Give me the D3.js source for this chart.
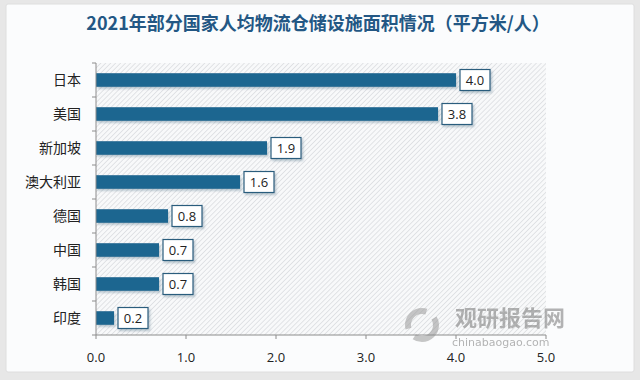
<!DOCTYPE html>
<html><head><meta charset="utf-8">
<script src="https://cdn.jsdelivr.net/npm/d3@7"></script>
<style>
html,body{margin:0;padding:0;background:#e7e7e7;}
svg{display:block;}
</style></head>
<body>
<svg id="chart" width="640" height="380"></svg>
<script>
const title = "2021年部分国家人均物流仓储设施面积情况（平方米/人）";
const categories = ["日本","美国","新加坡","澳大利亚","德国","中国","韩国","印度"];
const values = [4.0,3.8,1.9,1.6,0.8,0.7,0.7,0.2];
const xTicks = [0,1,2,3,4,5];

const svg = d3.select("#chart");
const font = "'Noto Sans CJK SC','Noto Sans',sans-serif";
const defs = svg.append("defs");
const pat = defs.append("pattern").attr("id","hatch").attr("patternUnits","userSpaceOnUse")
  .attr("width",3.5).attr("height",3.5).attr("patternTransform","rotate(45)");
pat.append("rect").attr("width",3.5).attr("height",3.5).attr("fill","#f8f9fa");
pat.append("line").attr("x1",0).attr("y1",0).attr("x2",0).attr("y2",3.5).attr("stroke","#d3d5d9").attr("stroke-width",1.2);
const f = defs.append("filter").attr("id","sh").attr("x","-20%").attr("y","-30%").attr("width","150%").attr("height","180%");
f.append("feDropShadow").attr("dx",1.5).attr("dy",2).attr("stdDeviation",1.2).attr("flood-color","#5a7a90").attr("flood-opacity",0.4);

// card
svg.append("rect").attr("x",6).attr("y",4).attr("width",628).attr("height",368).attr("rx",2)
  .attr("fill","#fbfcfd").attr("stroke","#dedede");

svg.append("text").attr("x",318).attr("y",30).attr("text-anchor","middle")
  .attr("font-family",font).attr("font-size",18).attr("font-weight",700)
  .attr("fill","#235784").text(title);

const m = {left:96, right:546, top:63, bottom:335};
const x = d3.scaleLinear().domain([0,5]).range([m.left,m.right]);
const y = d3.scaleBand().domain(categories).range([m.top,m.bottom]).paddingInner(0.6).paddingOuter(0.3);

svg.append("rect").attr("x",m.left).attr("y",m.top).attr("width",m.right-m.left).attr("height",m.bottom-m.top)
  .attr("fill","url(#hatch)");

// watermark
const wm = svg.append("g").attr("opacity",0.55);
wm.append("circle").attr("cx",422).attr("cy",325).attr("r",14).attr("fill","none").attr("stroke","#9a9a9a").attr("stroke-width",6).attr("stroke-dasharray","30 10");
wm.append("text").attr("x",455).attr("y",326).attr("font-family",font).attr("font-size",22).attr("font-weight",700)
  .attr("fill","#777").text("观研报告网");
wm.append("text").attr("x",452).attr("y",346).attr("font-family","'DejaVu Sans',sans-serif").attr("font-size",11)
  .attr("fill","#777").text("chinabaogao.com");

// bars
const bars = svg.append("g");
categories.forEach((c,i)=>{
  const v = values[i];
  bars.append("rect").attr("x",x(0)).attr("y",y(c)).attr("width",x(v)-x(0)).attr("height",y.bandwidth())
    .attr("fill","#1d6690").attr("filter","url(#sh)");
  const bw = 30, bh = 21;
  const bx = x(v)+4, by = y(c)+y.bandwidth()/2-bh/2;
  bars.append("rect").attr("x",bx).attr("y",by).attr("width",bw).attr("height",bh)
    .attr("fill","#ffffff").attr("stroke","#2b5d7d").attr("stroke-width",1.2).attr("filter","url(#sh)");
  bars.append("text").attr("x",bx+bw/2).attr("y",by+bh/2).attr("dy","0.36em").attr("text-anchor","middle")
    .attr("font-family","'Open Sans','DejaVu Sans',sans-serif").attr("font-size",13).attr("fill","#222")
    .text(d3.format(".1f")(v));
});

// axes
const axisColor = "#8c8c8c";
svg.append("line").attr("x1",m.left).attr("x2",m.left).attr("y1",m.top).attr("y2",m.bottom).attr("stroke",axisColor);
svg.append("line").attr("x1",m.left).attr("x2",m.right).attr("y1",m.bottom).attr("y2",m.bottom).attr("stroke",axisColor);
d3.range(categories.length+1).forEach(k=>{
  const yy = m.top + k*(m.bottom-m.top)/categories.length;
  svg.append("line").attr("x1",m.left-4).attr("x2",m.left).attr("y1",yy).attr("y2",yy).attr("stroke",axisColor);
});
categories.forEach(c=>{
  svg.append("text").attr("x",81).attr("y",y(c)+y.bandwidth()/2).attr("dy","0.36em").attr("text-anchor","end")
    .attr("font-family",font).attr("font-size",14).attr("fill","#222").text(c);
});
xTicks.forEach(t=>{
  svg.append("line").attr("x1",x(t)).attr("x2",x(t)).attr("y1",m.bottom).attr("y2",m.bottom+4).attr("stroke",axisColor);
  svg.append("text").attr("x",x(t)).attr("y",357).attr("dy","0.36em").attr("text-anchor","middle")
    .attr("font-family","'Open Sans','DejaVu Sans',sans-serif").attr("font-size",13).attr("fill","#222")
    .text(d3.format(".1f")(t));
});
</script>
</body></html>
